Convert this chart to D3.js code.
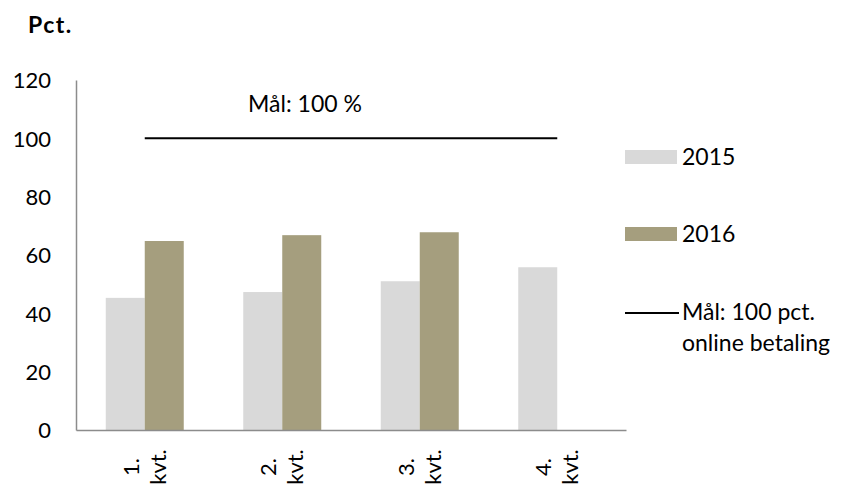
<!doctype html>
<html>
<head>
  <meta charset="utf8"/>
  <style>
    body { margin: 0; background: #fff; }
    svg text { font-family: Lato, 'Open Sans', sans-serif; fill: #000; }
    .axis path { stroke: #8c8c8c; stroke-width: 1.5px; }
    .axis text { font-size: 22px; }
  </style>
</head>
<body>
  <svg width='843' height='486'></svg>
  <script src="https://d3js.org/d3.v7.min.js"></script>
  <script>

    // data
    var quarters = ['1. kvt.', '2. kvt.', '3. kvt.', '4. kvt.'];
    var years = ['2015', '2016'];
    var values2015 = [45.3, 47.3, 51.0, 55.8];
    var values2016 = [64.8, 66.8, 67.8, null];
    var target = [100, 100, 100, 100];
    var yTicks = [0, 20, 40, 60, 80, 100, 120];
    var colors = {'2015': '#d9d9d9', '2016': '#a59e7e'};

    var svg = d3.select('svg');

    var x = d3.scaleBand().domain(quarters).range([76, 626]);
    var xInner = d3.scaleBand().domain(years)
                   .range([0, x.bandwidth()])
                   .paddingInner(0).paddingOuter(0.763);
    var y = d3.scaleLinear().domain([0, 120]).range([430, 80]);

    var rows = quarters.map(function(q, i) {
      return {q: q, '2015': values2015[i], '2016': values2016[i]};
    });

    // bars
    var grp = svg.selectAll('.grp')
      .data(rows)
      .enter().append('g')
        .attr('class', 'grp')
        .attr('transform', function(d) { return 'translate(' + x(d.q) + ',0)'; });

    grp.selectAll('rect')
      .data(function(d) {
        return years.filter(function(k) { return d[k] != null; })
                    .map(function(k) { return {key: k, value: d[k]}; });
      })
      .enter().append('rect')
        .attr('x', function(d) { return xInner(d.key); })
        .attr('width', xInner.bandwidth())
        .attr('y', function(d) { return y(d.value); })
        .attr('height', function(d) { return y(0) - y(d.value); })
        .attr('fill', function(d) { return colors[d.key]; });

    // axes
    svg.append('g')
      .attr('class', 'axis')
      .attr('transform', 'translate(76,0)')
      .call(d3.axisLeft(y).tickValues(yTicks).tickSize(0).tickPadding(25))
      .selectAll('text').attr('dy', '0.36em');

    svg.append('g')
      .attr('class', 'axis')
      .attr('transform', 'translate(0,430)')
      .call(d3.axisBottom(x).tickSize(0).tickFormat(''));

    // rotated two-line category labels
    quarters.forEach(function(q) {
      var parts = q.split(' ');
      var cx = x(q) + x.bandwidth() / 2;
      var t = svg.append('text')
        .attr('transform', 'translate(' + cx + ',467) rotate(-90)')
        .attr('text-anchor', 'middle')
        .style('font-size', '22px');
      t.append('tspan').attr('x', 0).attr('y', -6).text(parts[0]);
      t.append('tspan').attr('x', 0).attr('y', 21).text(parts[1]);
    });

    // target line
    var line = d3.line()
      .x(function(d, i) { return x(quarters[i]) + x.bandwidth() / 2; })
      .y(function(d) { return y(d); });

    svg.append('path')
      .datum(target)
      .attr('d', line)
      .attr('fill', 'none')
      .attr('stroke', '#000')
      .attr('stroke-width', 2);

    svg.append('text')
      .attr('x', 305).attr('y', 112)
      .attr('text-anchor', 'middle')
      .style('font-size', '23px')
      .text('Mål: 100 %');

    svg.append('text')
      .attr('x', 28).attr('y', 33)
      .style('font-size', '23px')
      .style('font-weight', 'bold')
      .style('letter-spacing', '1.5px')
      .text('Pct.');

    // legend
    var legend = svg.append('g').attr('transform', 'translate(625,0)');
    [['2015', 157], ['2016', 234]].forEach(function(l) {
      legend.append('rect')
        .attr('x', 0).attr('y', l[1] - 7)
        .attr('width', 52).attr('height', 14)
        .attr('fill', colors[l[0]]);
      legend.append('text')
        .attr('x', 57).attr('y', l[1]).attr('dy', '0.36em')
        .style('font-size', '23px')
        .text(l[0]);
    });
    legend.append('line')
      .attr('x1', 0).attr('x2', 54).attr('y1', 313).attr('y2', 313)
      .attr('stroke', '#000').attr('stroke-width', 2);
    var lt = legend.append('text').style('font-size', '23px');
    lt.append('tspan').attr('x', 57).attr('y', 320).text('Mål: 100 pct.');
    lt.append('tspan').attr('x', 57).attr('y', 351).text('online betaling');

  </script>
</body>
</html>
